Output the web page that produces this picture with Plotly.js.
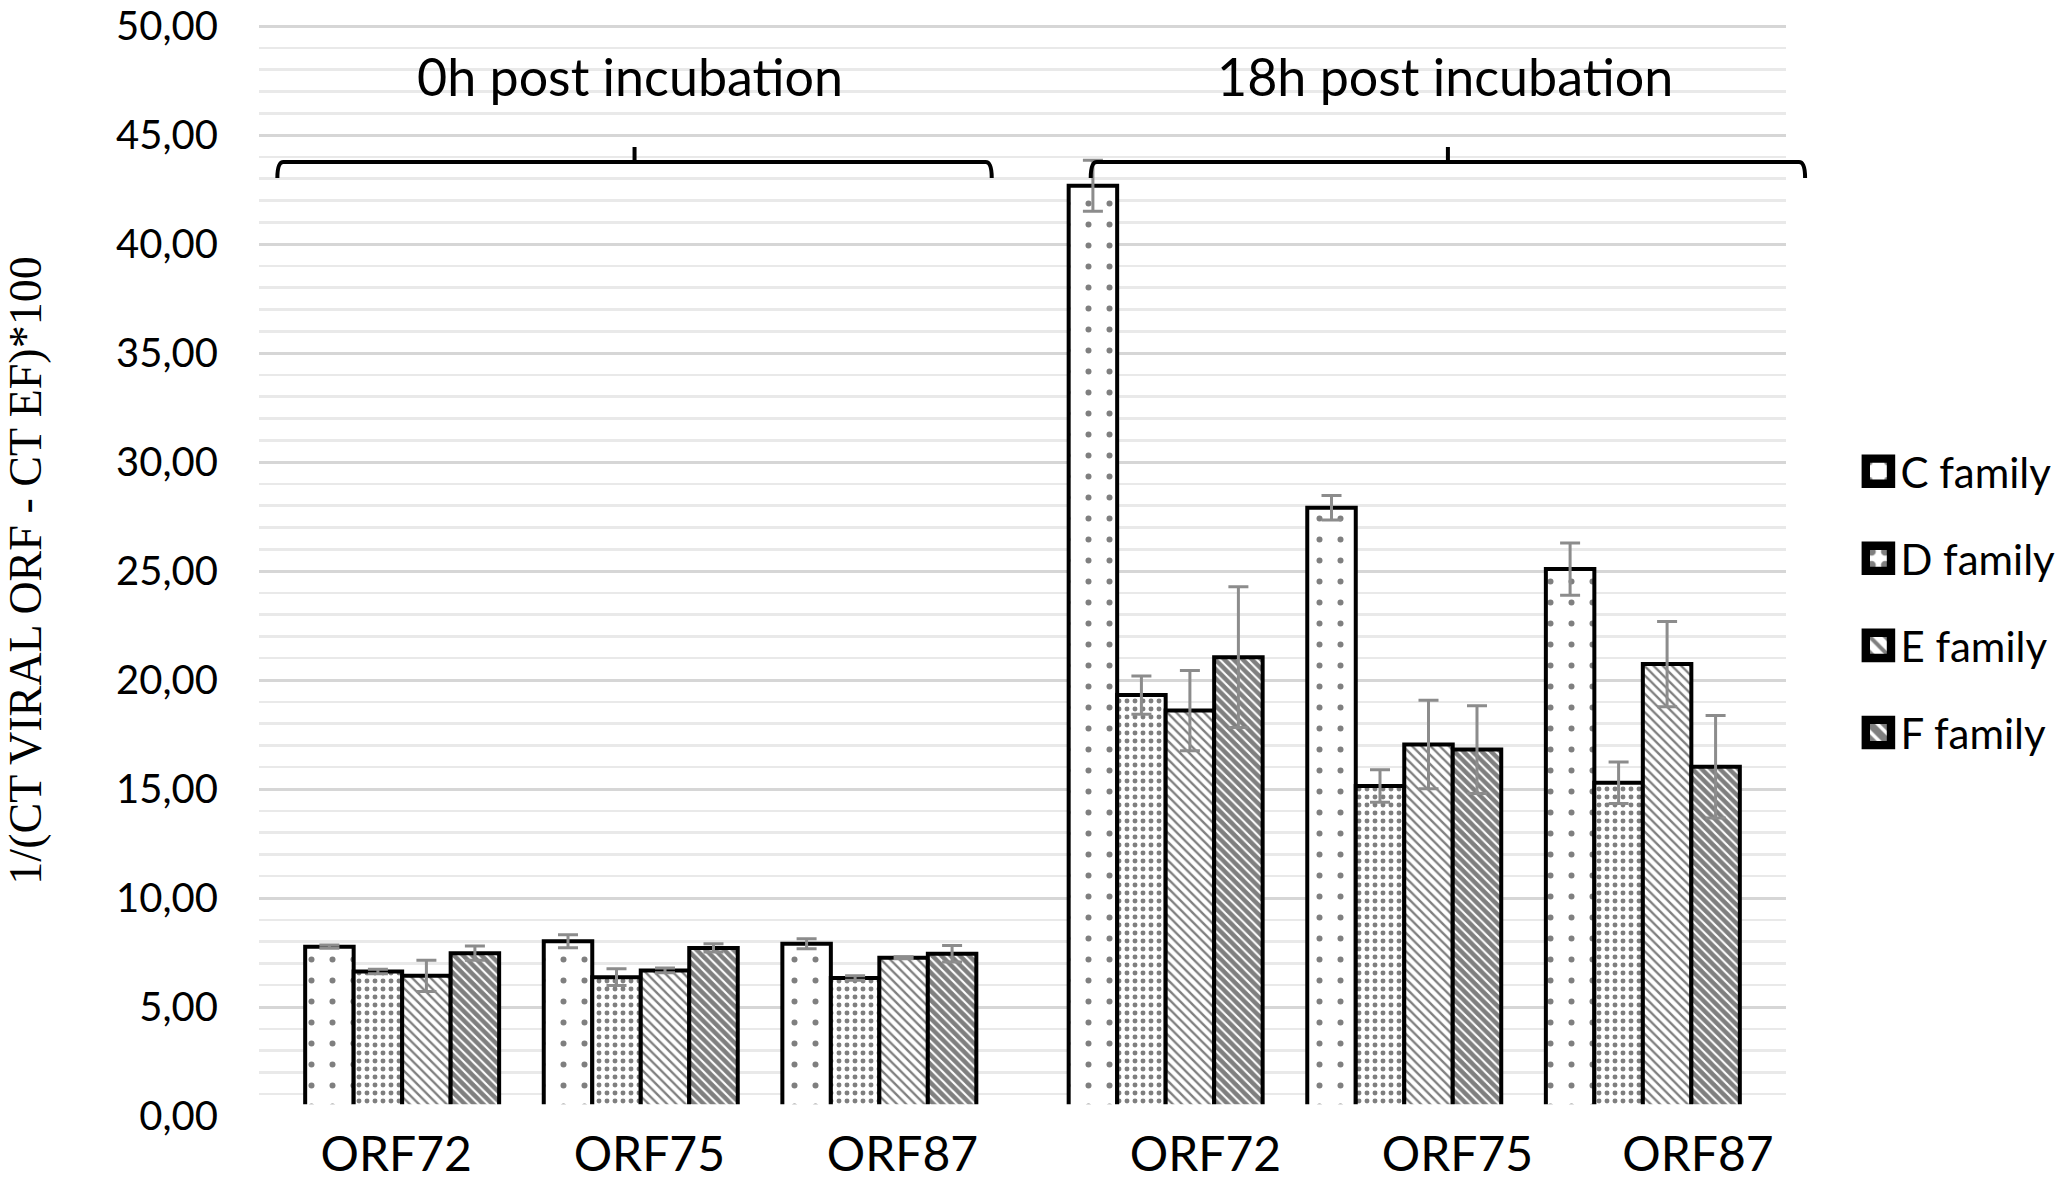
<!DOCTYPE html>
<html>
<head>
<meta charset="utf-8">
<script src="https://cdn.plot.ly/plotly-3.0.1.min.js"></script>
<style>
  html, body { margin: 0; padding: 0; background: #fff; }
  #chart { width: 2062px; height: 1182px; }
</style>
</head>
<body>
<div id="chart"></div>
<script>
// ---------- data ----------
const timepoints = ['0h post incubation', '18h post incubation'];
const orfs = ['ORF72', 'ORF75', 'ORF87'];
const families = ['C family', 'D family', 'E family', 'F family'];

// values ordered: 0h ORF72, ORF75, ORF87, 18h ORF72, ORF75, ORF87
const cFamily = [7.77, 8.02, 7.90, 42.68, 27.90, 25.09];
const cFamilyErr = [0.08, 0.30, 0.23, 1.17, 0.56, 1.20];
const dFamily = [6.63, 6.37, 6.33, 19.31, 15.14, 15.29];
const dFamilyErr = [0.10, 0.38, 0.10, 0.88, 0.75, 0.95];
const eFamily = [6.43, 6.68, 7.26, 18.60, 17.04, 20.73];
const eFamilyErr = [0.72, 0.11, 0.05, 1.84, 2.03, 1.96];
const fFamily = [7.47, 7.71, 7.44, 21.05, 16.81, 16.02];
const fFamilyErr = [0.33, 0.19, 0.38, 3.23, 2.01, 2.35];

const yTickStep = 5;
const yMax = 50;

// ---------- layout helpers ----------
const GROUP_GAP = 0.2;                 // extra space between the two time points
const X_RANGE = [-0.6, 5.8];
const Y_RANGE = [0, 50.05];
const LABEL_SHIFT = [-0.025, 0.036, 0.097, 0.167, 0.223, 0.231]; // hand-placed label offsets
const BRACKET_CENTER = [0.974, 4.383];
const TITLE_CENTER = [0.957, 4.369];
const BRACKET_HALF = 1.497;

const positions = [];
const labelTexts = [];
timepoints.forEach((t, ti) => {
  orfs.forEach((o, oi) => {
    positions.push(ti * (orfs.length + GROUP_GAP) + oi);
    labelTexts.push(o);
  });
});
const labelPositions = positions.map((p, i) => p + LABEL_SHIFT[i]);

const px = v => (v - X_RANGE[0]) / (X_RANGE[1] - X_RANGE[0]);
const py = v => (v - Y_RANGE[0]) / (Y_RANGE[1] - Y_RANGE[0]);

const FONT = 'Lato, "Open Sans", sans-serif';
const errColor = '#8c8c8c';

function barTrace(name, y, err, pattern) {
  return {
    type: 'bar',
    name: name,
    legendgroup: name,
    x: positions,
    y: y,
    marker: {
      color: '#ffffff',
      line: { color: '#000000', width: 4 },
      pattern: pattern
    },
    error_y: {
      type: 'data', array: err, visible: true,
      color: errColor, thickness: 3, width: 10
    },
    hoverinfo: 'y+name'
  };
}

const traces = [
  barTrace(families[0], cFamily, cFamilyErr,
    { shape: '.', size: 21, solidity: 0.064, fgcolor: '#000', bgcolor: '#fff', fillmode: 'overlay' }),
  barTrace(families[1], dFamily, dFamilyErr,
    { shape: '.', size: 8, solidity: 0.3, fgcolor: '#000', bgcolor: '#fff', fillmode: 'overlay' }),
  barTrace(families[2], eFamily, eFamilyErr,
    { shape: '\\', size: 6.5, solidity: 0.36, fgcolor: '#000', bgcolor: '#fff', fillmode: 'overlay' }),
  barTrace(families[3], fFamily, fFamilyErr,
    { shape: '\\', size: 6.5, solidity: 0.68, fgcolor: '#000', bgcolor: '#fff', fillmode: 'overlay' })
];

// bracket shapes
const yLine = 43.76, yEnd = 43.03, yTop = 44.45;
const shapes = [];
BRACKET_CENTER.forEach(c => {
  const l = px(c - BRACKET_HALF), r = px(c + BRACKET_HALF), m = px(c);
  shapes.push({
    type: 'path', xref: 'paper', yref: 'paper', layer: 'above',
    path: `M${l},${py(yEnd)} Q${l},${py(yLine)} ${l + 0.004},${py(yLine)} L${r - 0.004},${py(yLine)} Q${r},${py(yLine)} ${r},${py(yEnd)} M${m},${py(yLine)} L${m},${py(yTop)}`,
    line: { color: '#000', width: 4 }
  });
});
// white strip along the bottom (the original hides the bar bases and the zero line)
shapes.push({
  type: 'rect', xref: 'paper', yref: 'paper', layer: 'above',
  x0: -0.002, x1: 1.002, y0: py(-0.3), y1: py(0.54),
  fillcolor: '#ffffff', line: { width: 0 }
});

const annotations = timepoints.map((t, i) => ({
  text: t, xref: 'x', yref: 'y', x: TITLE_CENTER[i], y: 47.7,
  showarrow: false, xanchor: 'center', yanchor: 'middle',
  font: { family: FONT, size: 52, color: '#000' }
}));

const layout = {
  width: 2062, height: 1182,
  margin: { l: 259, r: 276, t: 25, b: 66, autoexpand: false },
  paper_bgcolor: '#fff', plot_bgcolor: '#fff',
  separators: ',.',
  barmode: 'group', bargap: 0.187, bargroupgap: 0,
  showlegend: true,
  legend: {
    x: 1.0461, xanchor: 'left', y: 0.622, yanchor: 'top',
    itemwidth: 34,
    font: { family: FONT, size: 42, color: '#000' },
    traceorder: 'grouped', tracegroupgap: 29.5,
    bgcolor: 'rgba(0,0,0,0)', borderwidth: 0, itemclick: false
  },
  xaxis: {
    range: X_RANGE, tickmode: 'array', tickvals: labelPositions, ticktext: labelTexts,
    tickfont: { family: FONT, size: 48, color: '#000' },
    showgrid: false, zeroline: false, showline: false, ticks: '',
    ticklabelstandoff: 6, ticklabeloverflow: 'allow'
  },
  yaxis: {
    range: Y_RANGE, tick0: 0, dtick: yTickStep, tickformat: '.2f',
    tickfont: { family: FONT, size: 40, color: '#000' },
    showgrid: true, gridcolor: '#d6d6d6', gridwidth: 3,
    minor: { dtick: 1, showgrid: true, gridcolor: '#e9e9e9', gridwidth: 2.5 },
    zeroline: false, showline: false, ticks: '',
    ticklabelstandoff: 40, ticklabeloverflow: 'allow',
    title: {
      text: '1/(CT VIRAL ORF - CT EF)*100',
      font: { family: '"Liberation Serif", "Times New Roman", serif', size: 46, color: '#000' },
      standoff: 64
    }
  },
  shapes: shapes,
  annotations: annotations
};

Plotly.newPlot('chart', traces, layout, { displayModeBar: false, staticPlot: true }).then(() => {
  document.querySelectorAll('.legend .legendpoints path').forEach(p => {
    const t = p.getAttribute('transform') || '';
    p.setAttribute('transform', t + ' scale(2.1)');
  });
});
</script>
</body>
</html>
